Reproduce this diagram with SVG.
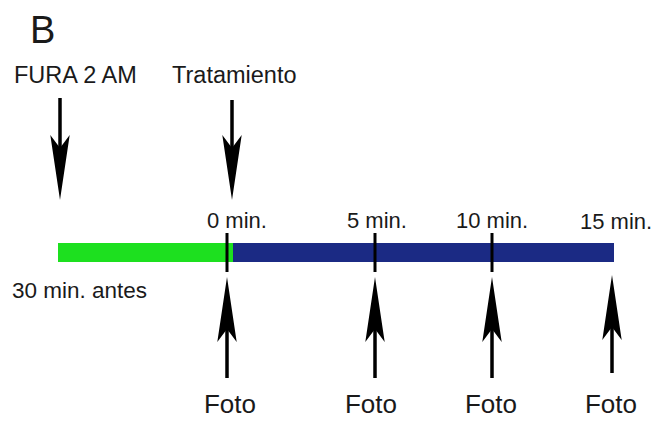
<svg xmlns="http://www.w3.org/2000/svg" width="670" height="434" viewBox="0 0 670 434">
  <style>
    text { font-family: "Liberation Sans", Arial, sans-serif; fill: #1a1a1a; }
    .lbl { font-size: 23.5px; }
    .tm { font-size: 22px; }
    .foto { font-size: 26px; text-anchor: middle; }
    .shaft { stroke: #000; stroke-width: 3.5; fill: none; marker-end: url(#head); }
    .tick { stroke: #000; stroke-width: 3; }
  </style>
  <defs>
    <!-- slender notched arrowhead; refX sits on the notch so the shaft ends there -->
    <marker id="head" markerUnits="userSpaceOnUse" markerWidth="70" markerHeight="24" viewBox="0 -12 70 24" refX="13" refY="0" orient="auto" overflow="visible">
      <path d="M0,-9.7 L65,0 L0,9.7 L13,0 Z" fill="#000"/>
    </marker>
  </defs>
  <rect width="670" height="434" fill="#fff"/>

  <text x="30" y="43" style="font-size:38px">B</text>

  <g id="fura">
    <text class="lbl" x="14" y="83">FURA 2 AM</text>
  </g>
  <g id="tratamiento">
    <text class="lbl" x="172" y="83">Tratamiento</text>
  </g>

  <!-- timeline bar: loading period then recording period -->
  <g id="timeline">
    <rect x="58" y="243" width="175" height="19" fill="#1de01f"/>
    <rect x="233" y="243" width="381" height="19" fill="#1b2a84"/>
    <line class="tick" x1="227" y1="233" x2="227" y2="272"/>
    <line class="tick" x1="375" y1="233" x2="375" y2="272"/>
    <line class="tick" x1="492" y1="233" x2="492" y2="272"/>
    <text x="12" y="298" style="font-size:22.5px">30 min. antes</text>
    <text class="tm" x="207" y="228">0 min.</text>
    <text class="tm" x="347" y="228">5 min.</text>
    <text class="tm" x="456" y="228">10 min.</text>
    <text class="tm" x="580" y="229">15 min.</text>
  </g>

  <g id="fotos">
    <text class="foto" x="230" y="413">Foto</text>
    <text class="foto" x="371" y="413">Foto</text>
    <text class="foto" x="491" y="413">Foto</text>
    <text class="foto" x="611" y="413">Foto</text>
  </g>

  <g id="connectors">
    <line class="shaft" x1="60" y1="98" x2="60" y2="148"/>
    <line class="shaft" x1="232" y1="100" x2="232" y2="148"/>
    <line class="shaft" x1="227" y1="378" x2="227" y2="329"/>
    <line class="shaft" x1="375" y1="378" x2="375" y2="329"/>
    <line class="shaft" x1="492" y1="378" x2="492" y2="329"/>
    <line class="shaft" x1="612" y1="373" x2="612" y2="327"/>
  </g>
</svg>
